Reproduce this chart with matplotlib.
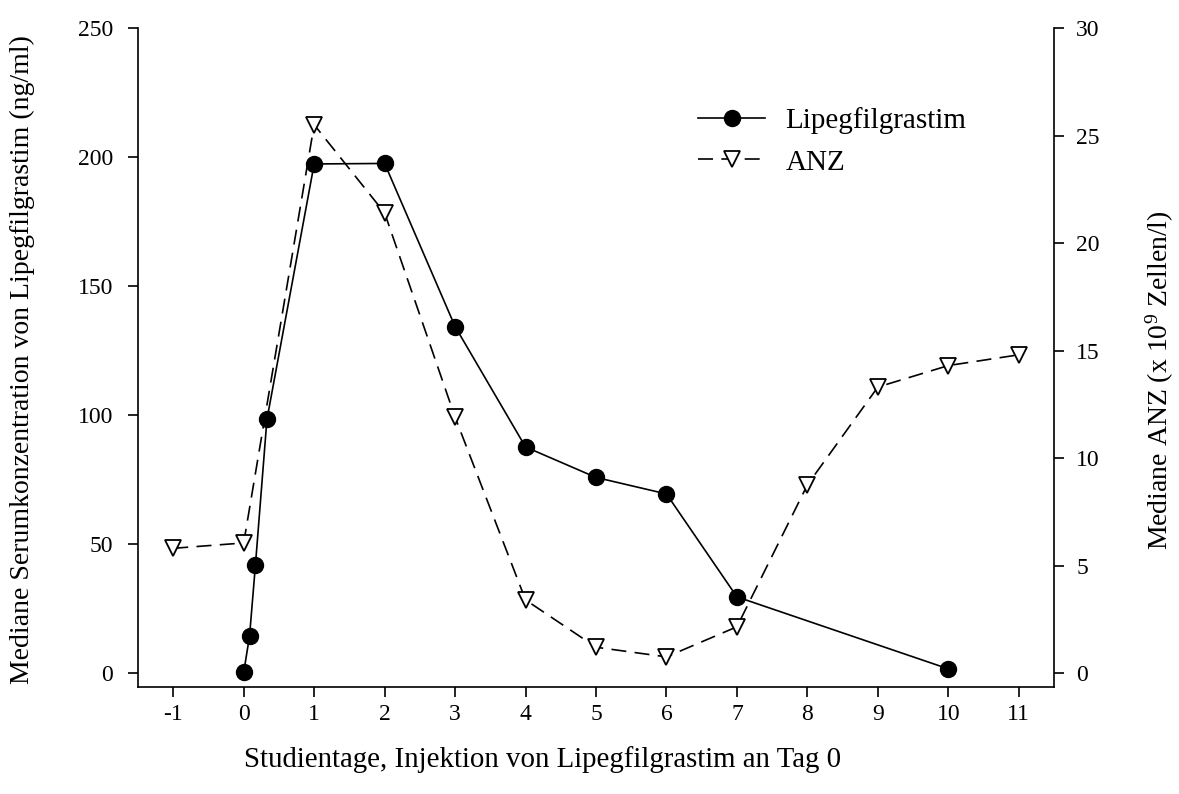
import matplotlib
matplotlib.use("Agg")
import matplotlib.pyplot as plt
from matplotlib.lines import Line2D

plt.rcParams['font.family'] = ['Liberation Serif', 'DejaVu Serif']
plt.rcParams['mathtext.fontset'] = 'custom'
plt.rcParams['mathtext.rm'] = 'Liberation Serif'
plt.rcParams['mathtext.it'] = 'Liberation Serif:italic'

# Data
lipeg_days = [0, 0.083, 0.167, 0.33, 1, 2, 3, 4, 5, 6, 7, 10]
lipeg_conc = [0.2, 14.3, 42.0, 98.3, 197.3, 197.5, 134.3, 87.6, 75.8, 69.4, 29.5, 1.6]
anz_days = [-1, 0, 1, 2, 3, 4, 5, 6, 7, 8, 9, 10, 11]
anz_vals = [5.8, 6.05, 25.5, 21.4, 11.9, 3.4, 1.2, 0.75, 2.15, 8.75, 13.3, 14.3, 14.8]
x_ticks = list(range(-1, 12))
left_ticks = [0, 50, 100, 150, 200, 250]
right_ticks = [0, 5, 10, 15, 20, 25, 30]

W, H = 1179, 794
L, R, B, T = 138, 1054, 687, 28
fig = plt.figure(figsize=(W/100, H/100), dpi=100)
ax = fig.add_axes([L/W, (H-B)/H, (R-L)/W, (B-T)/H])
ax2 = ax.twinx()

fs_tick = 17
fs_lab = 20
fs_leg = 21
ax.plot(lipeg_days, lipeg_conc, '-', color='black', lw=1.2, marker='o',
        markersize=11.5, markerfacecolor='black', markeredgecolor='black', zorder=3)
ln2, = ax2.plot(anz_days, anz_vals, color='black', lw=1.2, marker='v',
                markersize=12, markerfacecolor='white', markeredgecolor='black',
                markeredgewidth=1.3, zorder=3)
ln2.set_dashes((9, 5))

ax.set_xlim(-1.5, 11.5)
ax.set_ylim(-5.43, 250)
ax2.set_ylim(-0.65, 30)
ax.set_xticks(x_ticks)
ax.set_yticks(left_ticks)
ax2.set_yticks(right_ticks)
ax.set_xticklabels([str(t) for t in x_ticks], fontsize=fs_tick)
ax.set_yticklabels([str(t) for t in left_ticks], fontsize=fs_tick)
ax2.set_yticklabels([str(t) for t in right_ticks], fontsize=fs_tick)

for a in (ax, ax2):
    a.spines['top'].set_visible(False)
    for s in ('left', 'right', 'bottom'):
        a.spines[s].set_linewidth(1.2)
    a.tick_params(direction='out', length=7, width=1.2)
ax.tick_params(axis='x', pad=5)
ax.tick_params(axis='y', pad=11)
ax2.tick_params(axis='y', pad=9)
ax.spines['right'].set_visible(False)
ax2.spines['left'].set_visible(False)
ax2.spines['bottom'].set_visible(False)

xl = ax.set_xlabel('Studientage, Injektion von Lipegfilgrastim an Tag 0', fontsize=20.8)
ax.xaxis.set_label_coords((543-L)/(R-L), (B-760)/(B-T))
xl.set_va('center')
yl = ax.set_ylabel('Mediane Serumkonzentration von Lipegfilgrastim (ng/ml)', fontsize=fs_lab)
ax.yaxis.set_label_coords((22-L)/(R-L), (B-360)/(B-T))
yl.set_va('center')
yr = ax2.set_ylabel('Mediane ANZ (x 10$^{9}$ Zellen/l)', fontsize=fs_lab)
ax2.yaxis.set_label_coords((1160-L)/(R-L), (B-380)/(B-T))
yr.set_va('center')

h1 = Line2D([], [], color='black', lw=1.2, marker='o', markersize=11.5)
h2 = Line2D([], [], color='black', lw=1.2, marker='v', markersize=12,
            markerfacecolor='white', markeredgewidth=1.3, dashes=(9, 5))
fig.legend([h1, h2], ['Lipegfilgrastim', 'ANZ'], loc='upper left',
           bbox_to_anchor=(698/W, 1 - 107/H), frameon=False, fontsize=fs_leg,
           handlelength=2.3, handletextpad=0.7, labelspacing=0.52,
           borderpad=0, borderaxespad=0)

fig.savefig('out.png', dpi=100)
